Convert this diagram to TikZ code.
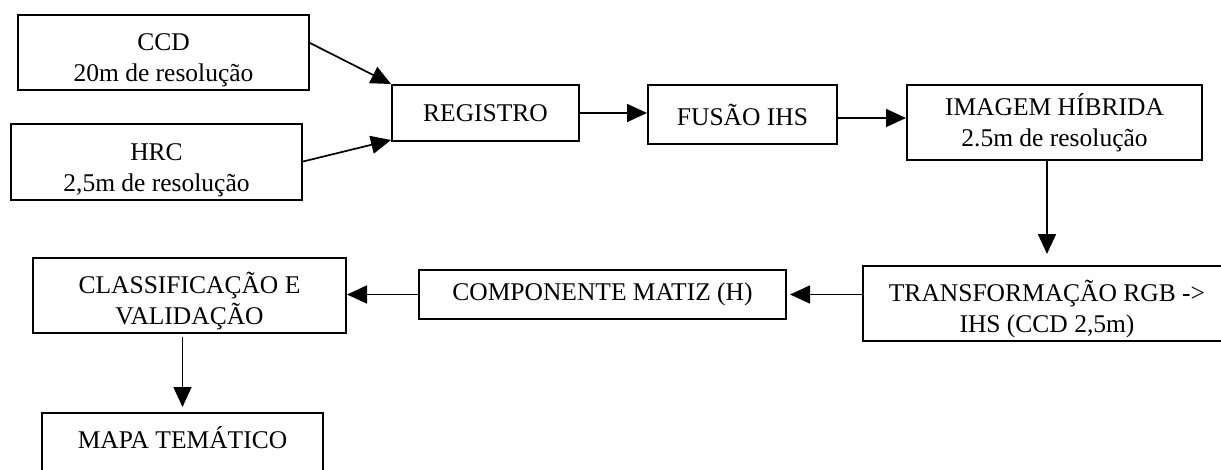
\documentclass[tikz,border=0pt]{standalone}
\usepackage{fontspec}
\setmainfont{Liberation Serif}
\usetikzlibrary{arrows.meta}
\tikzset{
  box/.style={draw, line width=2pt, align=center, inner sep=0pt,
    font=\fontsize{25.5}{31}\selectfont},
  arr/.style={line width=1.7pt, -{Triangle[length=20pt,width=18pt]}}
}
\newcommand{\lift}[1]{\rule{0pt}{#1}}
\begin{document}
\begin{tikzpicture}[x=1pt,y=-1pt]
\useasboundingbox (0,0) rectangle (1221,469);
\node[box, minimum width=291pt, minimum height=75pt] (ccd) at (163.5,52.5) {\lift{32pt}CCD\\20m de resolução};
\node[box, minimum width=291pt, minimum height=76pt] (hrc) at (156.5,162) {\lift{34pt}HRC\\2,5m de resolução};
\node[box, minimum width=187pt, minimum height=56pt] (reg) at (485.5,113) {REGISTRO};
\node[box, minimum width=189pt, minimum height=59pt] (fus) at (742.5,114.5) {FUSÃO IHS};
\node[box, minimum width=295pt, minimum height=75pt] (img) at (1054.5,122.5) {IMAGEM HÍBRIDA\\2.5m de resolução};
\node[box, minimum width=368pt, minimum height=75pt] (tr) at (1047,303.5) {\lift{32pt}TRANSFORMAÇÃO RGB ->\\IHS (CCD 2,5m)};
\node[box, minimum width=367pt, minimum height=49pt] (comp) at (602.5,294.5) {COMPONENTE MATIZ (H)};
\node[box, minimum width=313pt, minimum height=75pt] (cls) at (189.5,295.5) {\lift{33pt}CLASSIFICAÇÃO E\\VALIDAÇÃO};
\node[box, minimum width=281pt, anchor=north, inner ysep=18pt, text height=17pt, text depth=25pt] (mapa) at (182.5,412) {MAPA TEMÁTICO};
\draw[arr] ([yshift=9.5pt]ccd.east) -- (reg.north west);
\draw[arr] ([xshift=-2pt]hrc.east) -- ([yshift=2pt]reg.south west);
\draw[arr] (reg.east) -- (reg.east -| fus.west);
\draw[arr] ([yshift=-3.5pt]fus.east) -- ([yshift=-3.5pt]fus.east -| img.west);
\draw[arr, shorten >=11pt] (img.south -| tr.north) -- (tr.north);
\draw[arr, shorten >=3pt] (tr.west |- comp.east) -- (comp.east);
\draw[arr] (comp.west) -- (comp.west -| cls.east);
\draw[arr, shorten <=3pt, shorten >=5pt] (cls.south -| mapa.north) -- (mapa.north);
\end{tikzpicture}
\end{document}
